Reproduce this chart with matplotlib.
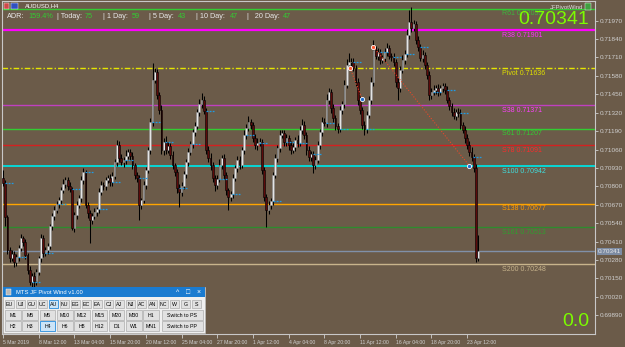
import matplotlib.pyplot as plt
from matplotlib.patches import Rectangle
import numpy as np

# AUDUSD H4 candles, prices in points (1e-5); open of each bar = previous close
first_open = 70858
closes = [
    70823, 70583, 70350, 70293, 70322, 70265, 70300, 70364, 70435, 70406,
    70314, 70209, 70123, 70166, 70131, 70194, 70293, 70435, 70329, 70350,
    70378, 70519, 70590, 70632, 70675, 70703, 70774, 70816, 70844, 70802,
    70781, 70505, 70597, 70668, 70717, 70844, 70901, 70668, 70611, 70562,
    70590, 70618, 70640, 70760, 70809, 70802, 70844, 70858, 70830, 70873,
    70971, 71092, 71000, 70971, 70986, 71014, 71042, 71014, 70950, 70880,
    70858, 70668, 70703, 70809, 70915, 71056, 71254, 71551, 71607, 71445,
    71339, 71056, 71113, 71056, 71085, 71021, 70950, 70901, 70788, 70760,
    70802, 70887, 70971, 71042, 71099, 71183, 71226, 71325, 71381, 71410,
    71332, 71056, 71000, 70950, 70858, 70809, 70851, 70950, 71000, 70880,
    70774, 70724, 70745, 70858, 70929, 70986, 70950, 71056, 71162, 71212,
    71254, 71233, 71141, 71092, 71106, 71113, 70915, 70724, 70632, 70668,
    70696, 70880, 71000, 71070, 71162, 71176, 71113, 71141, 71092, 71056,
    71077, 71127, 71106, 71198, 71233, 71162, 71056, 71007, 71028, 70950,
    70986, 71092, 71183, 71254, 71247, 71410, 71466, 71353, 71282, 71226,
    71205, 71339, 71381, 71515, 71657, 71678, 71678, 71636, 71537, 71410,
    71339, 71233, 71205, 71304, 71410, 71537, 71763, 71720, 71749, 71692,
    71706, 71749, 71777, 71720, 71713, 71678, 71537, 71494, 71621, 71692,
    71735, 71869, 71961, 71918, 71946, 71833, 71784, 71706, 71727, 71657,
    71586, 71445, 71466, 71480, 71494, 71466, 71494, 71508, 71480, 71410,
    71367, 71325, 71296, 71325, 71318, 71233, 71198, 71141, 71092, 71042,
    71007, 70929, 70293, 70341,
]
wick_up = [
    56, 20, 15, 25, 30, 20, 25, 20, 30, 15,
    20, 15, 25, 20, 30, 25, 15, 30, 20, 25,
    20, 15, 25, 30, 20, 25, 20, 35, 25, 20,
    30, 15, 20, 25, 20, 30, 25, 15, 20, 25,
    20, 30, 15, 25, 30, 20, 25, 20, 30, 25,
    20, 35, 25, 30, 20, 40, 25, 20, 30, 15,
    20, 25, 15, 30, 20, 25, 30, 120, 30, 25,
    20, 35, 30, 40, 25, 20, 30, 15, 20, 25,
    30, 20, 25, 30, 20, 25, 30, 20, 35, 50,
    25, 20, 30, 35, 25, 20, 30, 45, 20, 25,
    20, 15, 25, 30, 20, 25, 30, 20, 35, 30,
    40, 25, 20, 30, 35, 25, 20, 25, 20, 30,
    25, 20, 30, 25, 35, 20, 25, 30, 20, 25,
    30, 20, 35, 30, 40, 25, 20, 30, 25, 20,
    25, 30, 20, 35, 30, 40, 25, 20, 30, 25,
    20, 30, 25, 35, 40, 64, 30, 25, 20, 25,
    30, 20, 25, 30, 25, 35, 70, 25, 30, 20,
    25, 30, 35, 20, 25, 30, 20, 25, 30, 35,
    25, 40, 85, 106, 30, 25, 30, 20, 35, 25,
    20, 30, 25, 35, 20, 30, 25, 20, 25, 30,
    20, 25, 30, 20, 25, 30, 20, 25, 30, 25,
    35, 20, 30, 113,
]
wick_dn = [
    20, 60, 30, 25, 20, 35, 30, 25, 20, 30,
    25, 30, 20, 35, 42, 25, 20, 30, 25, 20,
    25, 20, 30, 25, 20, 30, 25, 20, 30, 25,
    20, 15, 30, 25, 20, 25, 30, 20, 35, 162,
    25, 20, 30, 25, 20, 30, 25, 20, 30, 25,
    20, 25, 30, 20, 35, 25, 20, 30, 25, 30,
    25, 106, 30, 20, 25, 20, 30, 25, 20, 30,
    25, 30, 35, 25, 20, 30, 25, 30, 35, 106,
    25, 20, 30, 25, 20, 30, 25, 20, 30, 25,
    20, 25, 30, 35, 25, 40, 30, 20, 25, 30,
    35, 92, 25, 30, 20, 25, 30, 20, 25, 30,
    20, 25, 30, 25, 35, 20, 25, 30, 120, 30,
    25, 30, 20, 25, 30, 20, 25, 30, 35, 25,
    20, 25, 30, 20, 25, 30, 35, 25, 30, 56,
    25, 20, 30, 25, 20, 30, 25, 35, 25, 30,
    25, 20, 30, 25, 20, 30, 25, 20, 30, 35,
    25, 30, 40, 25, 20, 30, 25, 20, 30, 25,
    20, 25, 30, 20, 25, 30, 35, 85, 25, 20,
    25, 20, 30, 25, 20, 30, 25, 20, 30, 25,
    30, 35, 25, 20, 30, 25, 20, 30, 25, 20,
    25, 30, 20, 25, 30, 25, 20, 35, 30, 25,
    30, 25, 28, 20,
]

x_labels = ["5 Mar 2019", "8 Mar 12:00", "13 Mar 04:00", "15 Mar 20:00", "20 Mar 12:00",
            "25 Mar 04:00", "27 Mar 20:00", "1 Apr 12:00", "4 Apr 04:00", "8 Apr 20:00",
            "11 Apr 12:00", "16 Apr 04:00", "18 Apr 20:00", "23 Apr 12:00"]
y_ticks = [0.69890, 0.70020, 0.70150, 0.70280, 0.70410, 0.70540, 0.70670, 0.70800, 0.70930,
           0.71060, 0.71190, 0.71320, 0.71450, 0.71580, 0.71710, 0.71840, 0.71970]

level_names = ["R61", "R38", "Pivot", "S38", "S61", "S78", "S100", "S138", "S161", "S200"]
level_values = [0.72055, 0.71901, 0.71636, 0.71371, 0.71207, 0.71091, 0.70942, 0.70677, 0.70513, 0.70248]
level_colors = ["#32cd32", "#ff00ff", "#e6e600", "#c040c0", "#32cd32", "#d42020",
                "#00e0e0", "#ffa500", "#2e8b2e", "#c8b48c"]
label_colors = ["#3cb83c", "#ff30ff", "#e0e000", "#ff40ff", "#33cc33", "#ff2a2a",
                "#40e0e0", "#ff9a00", "#2ea02e", "#c8b48c"]
current_price = 0.70341

# zigzag swing markers: (bar, price)
zz_high = [(155.5, 0.71636), (166, 0.71786)]
zz_low = [(161, 0.71416), (209, 0.70945)]

adr_labels = ["ADR:", "| Today:", "| 1 Day:", "| 5 Day:", "| 10 Day:", "|   20 Day:"]
adr_values = ["159.4%", "75", "59", "43", "47", "47"]

pairs = ["EU", "UJ", "GU", "UC", "AU", "NU", "EG", "EC", "EA", "CJ", "AJ", "NJ", "AC", "AN", "NC", "W", "G", "S"]
tf_row1 = ["M1", "M5", "M6", "M10", "M12", "M15", "M20", "M30", "H1", "Switch to PS"]
tf_row2 = ["H2", "H3", "H4", "H6", "H8", "H12", "D1", "W1", "MN1", "Switch to PP"]

BG = "#6b5b49"
FG = "#d0d0d0"
plt.rcParams["font.family"] = ["Liberation Sans", "DejaVu Sans"]

fig = plt.figure(figsize=(6.25, 3.47), dpi=100, facecolor=BG)
W, H = 625, 347
ax = fig.add_axes([2 / W, 13 / H, 593 / W, 333 / H], facecolor=BG, zorder=1)

n = len(closes)
idx = np.arange(n)
c = np.array(closes) / 1e5
o = np.concatenate([[first_open], closes[:-1]]) / 1e5
hi = np.maximum(o, c) + np.array(wick_up) / 1e5
lo = np.minimum(o, c) - np.array(wick_dn) / 1e5
bull = c >= o

# pivot levels
for name, v, col, lcol in zip(level_names, level_values, level_colors, label_colors):
    lw, ls = 1.0, "-"
    if name == "R38":
        lw = 1.6
    if name == "S100":
        lw = 1.3
    if name == "Pivot":
        ls = (0, (4, 1.5, 1, 1.5))
    ax.axhline(v, color=col, lw=lw, ls=ls, zorder=2)
    ax.annotate(f"{name} {v:.5f}", xy=(0.843, v), xycoords=ax.get_yaxis_transform(),
                xytext=(0, -1.2), textcoords="offset points", va="top", ha="left",
                fontsize=5, color=lcol, zorder=6)
ax.axhline(current_price, color="#8090a8", lw=1.0, zorder=2)

# candles
ax.vlines(idx, lo, hi, color="black", lw=0.75, zorder=3)
ax.bar(idx[bull], (c - o)[bull], bottom=o[bull], width=0.8, color="#e4e4e4",
       edgecolor="#8a8a8a", lw=0.4, zorder=4)
ax.bar(idx[~bull], (o - c)[~bull], bottom=c[~bull], width=0.8, color="#5c0a0a",
       edgecolor="black", lw=0.4, zorder=4)

# daily open dashes
for i in range(1, n, 6):
    ax.hlines(o[i], i - 0.2, i + 3.4, color="#1e9be6", lw=0.9, linestyles=(0, (1.5, 1)), zorder=5)

# zigzag
for (hx, hy), (lx, ly) in zip(zz_high, zz_low):
    ax.plot([hx, lx], [hy, ly], color="#e8482a", lw=0.8, ls=(0, (1, 1.5)), zorder=5)
ax.scatter([p[0] for p in zz_high], [p[1] for p in zz_high], s=9, color="#ff5a30",
           edgecolor="white", lw=0.6, zorder=6)
ax.scatter([p[0] for p in zz_low], [p[1] for p in zz_low], s=9, color="#1e6ed0",
           edgecolor="white", lw=0.6, zorder=6)

ax.set_xlim(-0.45, 265.3)
ax.set_ylim(0.69757, 0.72109)
ax.yaxis.tick_right()
ax.set_yticks(y_ticks)
ax.set_yticklabels([f"{t:.5f}" for t in y_ticks])
ax.set_xticks(np.arange(len(x_labels)) * 16)
ax.set_xticklabels(x_labels, ha="left")
ax.tick_params(axis="y", length=2.5, width=0.6, pad=1, labelsize=4.6, colors=FG)
ax.tick_params(axis="x", length=3, width=0.6, pad=1.5, labelsize=3.7, colors=FG)
for s in ax.spines.values():
    s.set_color("#c8c8c8")
    s.set_linewidth(0.8)

ax.annotate(f"{current_price:.5f}", xy=(1, current_price), xycoords=("axes fraction", "data"),
            xytext=(2.2, 0), textcoords="offset points", va="center", ha="left",
            fontsize=4.6, color="#e8e8e8", annotation_clip=False,
            bbox=dict(boxstyle="square,pad=0.15", fc="#7d8ca3", ec="none"))

# overlay in pixel coordinates for the terminal decorations
ov = fig.add_axes([0, 0, 1, 1], zorder=10)
ov.set_xlim(0, W)
ov.set_ylim(H, 0)
ov.axis("off")
ov.patch.set_alpha(0)

ov.add_patch(Rectangle((4, 2.5), 5, 6, fc="#d04848", ec="white", lw=0.3))
ov.add_patch(Rectangle((11, 2.5), 7, 6, fc="#3050c0", ec="white", lw=0.3))
ov.text(25, 5.5, "AUDUSD,H4", fontsize=4.2, color="white", va="center")
ov.text(583, 7, "JFPivotWind", fontsize=4.2, color="#e0e0e0", va="center", ha="right")
ov.add_patch(Rectangle((585, 3), 6, 7, fc="#40a040", ec="white", lw=0.3))

adr_x = [7, 57, 103, 149, 196, 247]
val_x = [28, 85, 132, 178, 230, 283]
for lab, val, lx, vx in zip(adr_labels, adr_values, adr_x, val_x):
    ov.text(lx, 16, lab, fontsize=5.2, color="#e8e8e8", va="center")
    ov.text(vx, 16, val, fontsize=5.2, color="#32cd32", va="center")

ov.text(589, 19, f"{current_price:.5f}", fontsize=14, color="#7cfc00", va="center", ha="right")
ov.text(589, 322, "0.0", fontsize=14, color="#7cfc00", va="center", ha="right")

# control panel
ov.add_patch(Rectangle((3, 287), 202, 46, fc="#f0f0f0", ec="#c0c0c0", lw=0.4, zorder=1))
ov.add_patch(Rectangle((3, 287), 202, 10, fc="#1a7bd0", ec="none", zorder=2))
ov.add_patch(Rectangle((5.5, 289), 5, 6, fc="#b8b8b8", ec="white", lw=0.3, zorder=3))
ov.text(16, 292, "MTS JF Pivot Wind v1.00", fontsize=4.2, color="white", va="center", zorder=3)
for xx, ch in zip([178, 188.5, 199], ["^", "\u25a1", "\u00d7"]):
    ov.text(xx, 292, ch, fontsize=5, color="white", va="center", ha="center", zorder=3)


def button(x0, y0, w, h, text, active=False):
    fc, ec = ("#cce4f7", "#0078d7") if active else ("#e1e1e1", "#adadad")
    ov.add_patch(Rectangle((x0, y0), w, h, fc=fc, ec=ec, lw=0.5, zorder=3))
    ov.text(x0 + w / 2, y0 + h / 2 + 0.3, text, fontsize=3.8, color="black",
            ha="center", va="center", zorder=4)


for k, p in enumerate(pairs):
    button(5 + k * 11.0, 299.5, 9, 8.5, p, active=(p == "AU"))
for row, y0 in ((tf_row1, 310), (tf_row2, 321)):
    for k, t in enumerate(row[:-1]):
        button(5 + k * 17.3, y0, 15.6, 9.5, t, active=(t == "H4"))
    button(161.7, y0, 41, 9.5, row[-1])

fig.savefig("out.png", dpi=100, facecolor=BG)
